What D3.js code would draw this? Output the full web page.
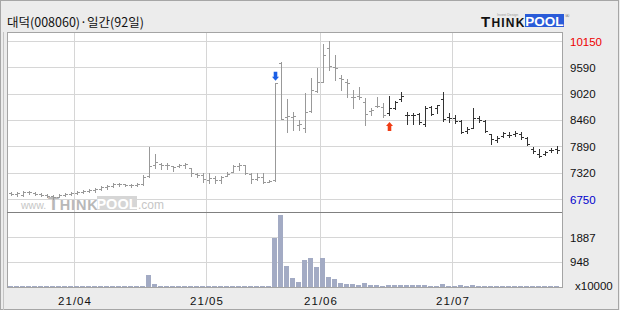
<!DOCTYPE html>
<html><head><meta charset="utf-8">
<script src="https://cdn.jsdelivr.net/npm/d3@7"></script>
<style>body{margin:0;background:#ececec}svg{display:block}</style>
</head><body>
<svg id="c" width="620" height="310"></svg>
<script>
const title = "대덕(008060)·일간(92일)";
const open = [6880,6860,6840,6900,6880,6860,6840,6810,6790,6840,
6860,6880,6900,6920,6940,6970,7010,7030,7070,7070,
7050,7050,7070,7250,7480,7500,7480,7460,7460,7480,
7420,7290,7270,7160,7200,7160,7250,7330,7460,7480,
7290,7180,7220,7120,7160,9680,8510,8510,8340,8280,
8640,9070,9270,10000,9590,9350,9270,8950,8970,8840,
8640,8750,8730,8600,8710,8900,8560,8560,8580,8360,
8730,8710,8900,8510,8490,8430,8210,8280,8490,8430,
8150,8020,8110,8130,8150,8150,8060,7830,7720,7720,
7800,7830];
const high = [6900,6900,6920,6920,6900,6880,6860,6840,6860,6880,
6900,6920,6940,6970,6990,7030,7050,7090,7090,7070,
7070,7090,7270,7870,7720,7520,7520,7460,7500,7520,
7420,7310,7310,7310,7250,7250,7330,7480,7520,7480,
7310,7310,7310,7160,9250,9700,8900,8620,8450,9030,
9350,9570,10090,10150,9850,9420,9330,9100,9160,8920,
8710,8950,8820,8970,8860,9050,8620,8600,8600,8750,
8750,8770,9050,8600,8560,8450,8300,8710,8540,8450,
8150,8110,8190,8190,8210,8190,8080,7870,7830,7780,
7850,7890];
const low = [6840,6810,6810,6860,6840,6810,6790,6750,6790,6810,
6840,6860,6880,6900,6900,6940,6970,7010,7030,7030,
7010,7030,7050,7220,7420,7400,7400,7350,7440,7420,
7250,7220,7120,7090,7090,7090,7250,7330,7370,7290,
7090,7160,7090,7120,7140,8470,8190,8230,8230,8190,
8620,9050,9270,9530,9310,9100,8950,8710,8900,8340,
8560,8730,8510,8560,8690,8860,8360,8360,8360,8320,
8560,8600,8430,8410,8390,8170,8170,8280,8410,8190,
7930,7980,8080,8080,8110,8040,7910,7740,7650,7700,
7760,7740];
const close = [6860,6880,6900,6900,6860,6840,6810,6790,6840,6860,
6880,6900,6920,6940,6970,7010,7030,7070,7070,7050,
7050,7070,7220,7460,7550,7480,7480,7440,7480,7500,
7310,7270,7180,7200,7160,7220,7290,7460,7480,7310,
7180,7220,7120,7140,9250,8470,8540,8540,8360,8620,
9100,9270,9850,9610,9570,9330,9250,8950,8950,8580,
8670,8750,8560,8710,8840,8970,8560,8560,8410,8710,
8580,8770,8470,8490,8430,8190,8260,8490,8450,8210,
8040,8060,8170,8130,8170,8080,7930,7780,7680,7760,
7800,7800];
const volume = [30,30,25,30,25,30,25,30,30,25,
30,25,30,30,25,30,30,25,30,30,
25,30,40,450,120,50,30,25,30,25,
50,30,25,30,25,25,30,30,25,30,
25,30,25,40,1850,2720,800,330,200,1030,
1100,770,1110,380,290,150,125,125,75,150,
60,75,50,75,60,90,90,60,60,90,
25,50,125,50,25,75,25,90,40,40,
40,30,30,35,30,30,50,50,50,35,
30,30];
const monthLabels = ["21/04","21/05","21/06","21/07"];
const monthStart = [11,33,52,74];
const priceTicks = [10150,9590,9020,8460,7890,7320,6750];
const volTicks = [1887,948];
const volUnit = "x10000";
const darkFrom = 63;
const signals = [{i:44,type:"sell"},{i:63,type:"buy"}];

const svg = d3.select("#c");
const W=620,H=310;
const L=7,R=562,T=32,MID=212,B=287;

svg.append("rect").attr("width",W).attr("height",H).attr("fill","#ececec");
svg.append("rect").attr("x",0.5).attr("y",0.5).attr("width",618).attr("height",309)
  .attr("fill","none").attr("stroke","#a6a6a6");
svg.append("line").attr("x1",3.5).attr("x2",3.5).attr("y1",32).attr("y2",310).attr("stroke","#c4c4c4");

// title
svg.append("text").attr("x",7).attr("y",27).attr("font-family","'Noto Sans CJK KR'")
  .attr("font-size",12.5).attr("fill","#111").text(title);

// logo
const logo = svg.append("g");
const lt = logo.append("text").attr("x",481).attr("y",27).attr("font-family","'Liberation Sans',Arial")
  .attr("font-weight","bold").attr("fill","#111").attr("letter-spacing",1.2);
lt.append("tspan").attr("font-size",15).text("T");
lt.append("tspan").attr("font-size",12).text("HINK");
logo.append("text").attr("x",497).attr("y",16).attr("font-size",3.5).attr("fill","#999")
  .attr("font-family","'Liberation Sans'").text("Invest  Design");
logo.append("rect").attr("x",525).attr("y",14).attr("width",39).attr("height",13).attr("fill","#2a5bd8");
logo.append("text").attr("x",544.5).attr("y",26).attr("text-anchor","middle").attr("font-family","'Liberation Sans',Arial")
  .attr("font-weight","bold").attr("font-size",13.5).attr("fill","#fff").text("POOL");
logo.append("text").attr("x",565).attr("y",18).attr("font-size",6).attr("fill","#555").text("®");

// plot background
svg.append("rect").attr("x",L).attr("y",T).attr("width",R-L).attr("height",B-T).attr("fill","#fff");

const idx = d3.range(open.length);
const x = d3.scaleBand().domain(idx).range([8,8+6*idx.length]);
const y = d3.scaleLinear().domain([6750,10150]).range([199,41]);
const yv = d3.scaleLinear().domain([0,1887]).range([B,237]);
const cx = i => x(i)+3;

const grid = svg.append("g").attr("stroke","#d6d6d6").attr("shape-rendering","crispEdges");
priceTicks.forEach(v=>grid.append("line").attr("x1",L).attr("x2",R).attr("y1",Math.round(y(v))+0.5).attr("y2",Math.round(y(v))+0.5));
volTicks.forEach(v=>grid.append("line").attr("x1",L).attr("x2",R).attr("y1",Math.round(yv(v))+0.5).attr("y2",Math.round(yv(v))+0.5));
monthStart.forEach(i=>grid.append("line").attr("x1",x(i)+0.5).attr("x2",x(i)+0.5).attr("y1",T).attr("y2",B));

// watermark
const wm = svg.append("g");
wm.append("text").attr("x",21).attr("y",209).attr("font-family","'Liberation Sans',Arial").attr("font-size",10.5)
  .attr("fill","#c6c6c6").text("www.");
const wt = wm.append("text").attr("x",48).attr("y",209.5).attr("font-family","'Liberation Sans',Arial")
  .attr("font-weight","bold").attr("fill","#b8b8b8").attr("letter-spacing",0.8);
wt.append("tspan").attr("font-size",18).text("T");
wt.append("tspan").attr("font-size",14.5).text("HINK");
wm.append("rect").attr("x",97).attr("y",196).attr("width",40).attr("height",14).attr("fill","#d6d6d6");
wm.append("text").attr("x",117).attr("y",209).attr("text-anchor","middle").attr("font-family","'Liberation Sans',Arial")
  .attr("font-weight","bold").attr("font-size",14.5).attr("fill","#fff").text("POOL");
wm.append("text").attr("x",138).attr("y",209).attr("font-family","'Liberation Sans',Arial").attr("font-size",12)
  .attr("fill","#c6c6c6").text(".com");

// OHLC bars
const bars = svg.append("g").attr("shape-rendering","crispEdges").attr("fill","none");
idx.forEach(i=>{
  const c = cx(i)+0.5;
  const col = i>=darkFrom ? "#333" : "#999";
  const yo=Math.round(y(open[i]))+0.5, yc=Math.round(y(close[i]))+0.5;
  bars.append("path").attr("stroke",col).attr("stroke-width",1)
    .attr("d",`M${c},${Math.round(y(high[i]))}V${Math.round(y(low[i]))+1}M${c-2.5},${yo}H${c}M${c},${yc}H${c+2.5}`);
});

// signals
signals.forEach(s=>{
  const c = cx(s.i)+0.5;
  if(s.type==="sell"){
    const tip = y(high[s.i])-2;
    svg.append("path").attr("fill","#1a5fe6")
      .attr("d",`M${c-1.8},${tip-9}H${c+1.8}V${tip-4}H${c+3.5}L${c},${tip}L${c-3.5},${tip-4}H${c-1.8}Z`);
  } else {
    const tip = y(low[s.i])+7;
    svg.append("path").attr("fill","#f03c14")
      .attr("d",`M${c-1.8},${tip+9}H${c+1.8}V${tip+4}H${c+3.5}L${c},${tip}L${c-3.5},${tip+4}H${c-1.8}Z`);
  }
});

// volume bars
svg.append("g").attr("shape-rendering","crispEdges").selectAll("rect").data(idx).join("rect")
  .attr("x",i=>x(i)).attr("width",5)
  .attr("y",i=>yv(volume[i])).attr("height",i=>B-yv(volume[i]))
  .attr("fill","#a3abc4");

// frame
svg.append("rect").attr("x",L+0.5).attr("y",T+0.5).attr("width",R-L).attr("height",B-T)
  .attr("fill","none").attr("stroke","#a4a4a4").attr("shape-rendering","crispEdges");
svg.append("line").attr("x1",L).attr("x2",R).attr("y1",MID+0.5).attr("y2",MID+0.5)
  .attr("stroke","#808080").attr("shape-rendering","crispEdges");

// axis labels
const lab = svg.append("g").attr("font-family","'Liberation Sans',Arial").attr("font-size",11.5);
priceTicks.forEach((v,k)=>lab.append("text").attr("x",570).attr("y",y(v)+4.5)
  .attr("fill", k===0 ? "#ee0000" : (k===priceTicks.length-1 ? "#0000cc" : "#111")).text(v));
volTicks.forEach(v=>lab.append("text").attr("x",570).attr("y",yv(v)+4.5).attr("fill","#111").text(v));
lab.append("text").attr("x",575).attr("y",290).attr("fill","#111").text(volUnit);
monthStart.forEach((i,k)=>lab.append("text").attr("x",x(i)+1).attr("y",305).attr("text-anchor","middle")
  .attr("letter-spacing",1).attr("fill","#111").text(monthLabels[k]));
</script>
</body></html>
